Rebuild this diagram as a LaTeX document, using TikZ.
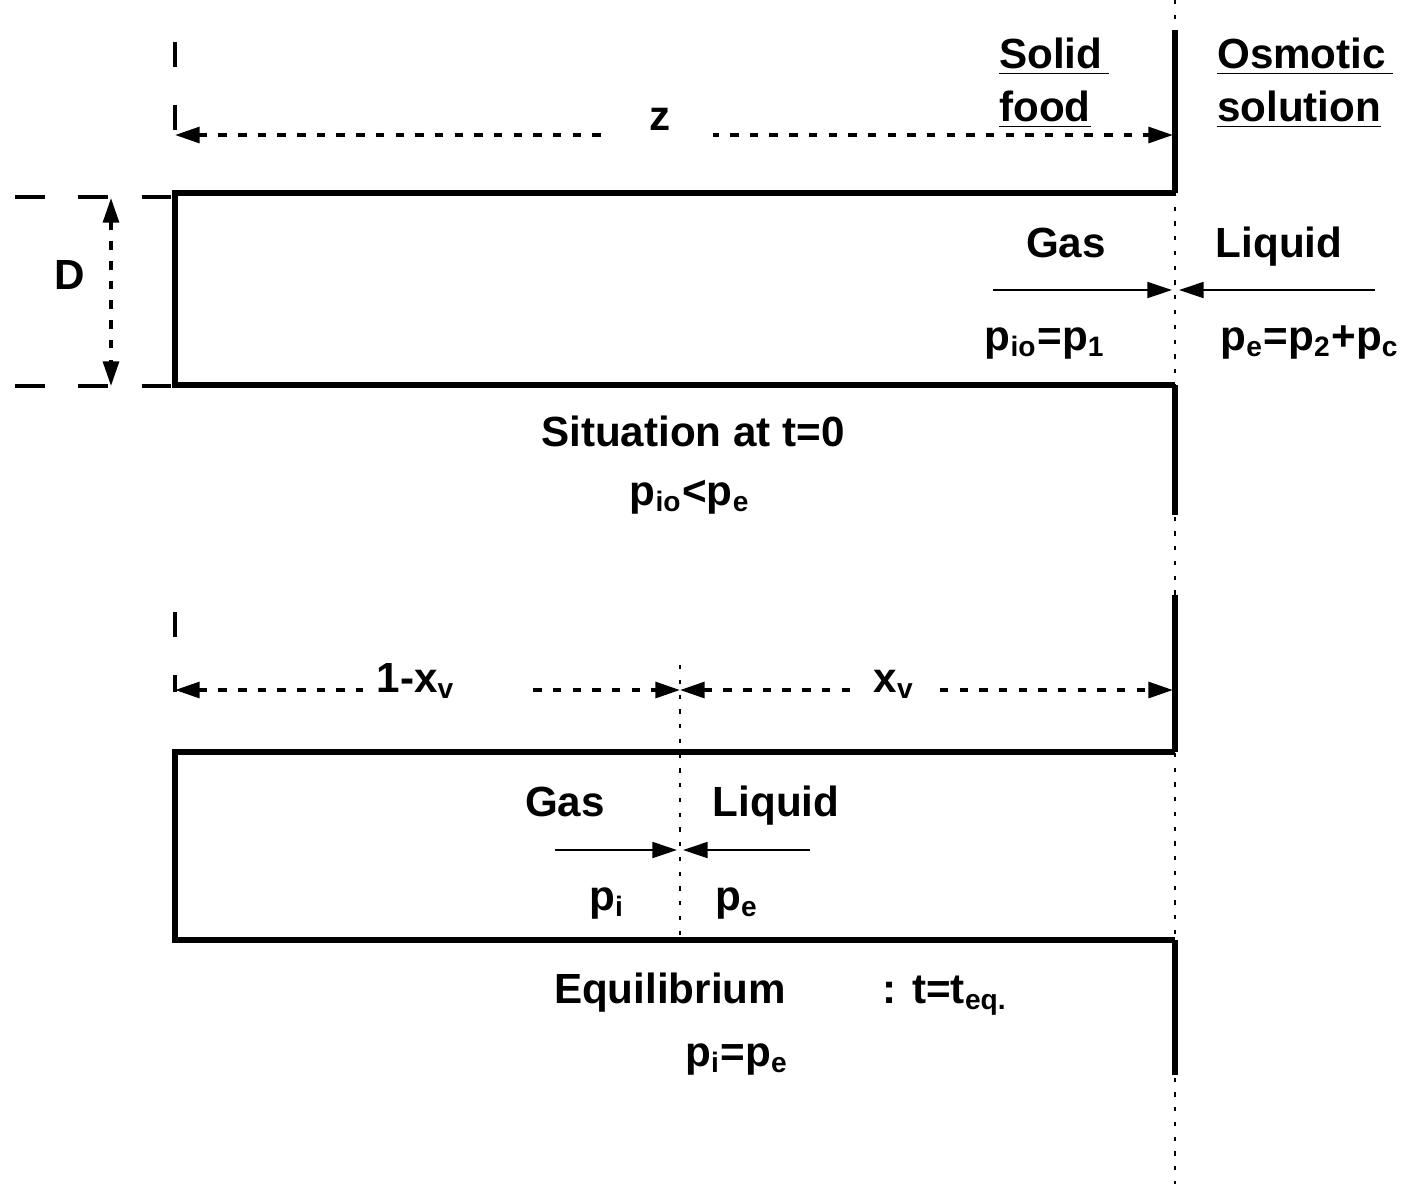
\documentclass[tikz,border=0pt]{standalone}
\usepackage{fontspec}
\setmainfont{Liberation Sans}
\usetikzlibrary{arrows.meta,positioning}

\tikzset{
  wall/.style={line width=1.7pt},
  membrane/.style={line width=0.7pt, dash pattern=on 1.2pt off 3pt},
  extline/.style={line width=0.9pt, dash pattern=on 7pt off 11pt},
  dimline/.style={line width=1pt, dash pattern=on 2.4pt off 3.2pt,
    {Triangle[length=7pt,width=4.5pt]}-{Triangle[length=7pt,width=4.5pt]}},
  push/.style={line width=0.7pt, -{Triangle[length=7pt,width=4.5pt]}},
  lbl/.style={font=\fontsize{12}{14}\selectfont\bfseries, inner sep=1pt, anchor=base},
  gap/.style={lbl, fill=white, inner xsep=4pt, text depth=3pt}
}

\begin{document}
\begin{tikzpicture}[x=0.1mm, y=-0.1mm]
\useasboundingbox (0,0) rectangle (1410,1184);

% Membrane between food and solution
\draw[membrane] (1175,0) -- (1175,1184);
\foreach \a/\b in {30/193, 385/515, 595/752, 940/1075}{
  \draw[wall] (1175,\a) -- (1175,\b);
}

% ---------- Situation at t=0 ----------
\draw[wall] (1175,193) -- (175,193) -- (175,385) -- (1175,385);
\draw[extline] (175,42) -- (175,138);
\coordinate (zL) at (175,135);
\coordinate (zR) at (1173,135);
\draw[dimline] (zL) -- (zR);
\node[gap, inner xsep=12pt] (z) at (660,130) {z};

% D dimension
\draw[extline, dash pattern=on 8.5pt off 9.5pt] (15,197) -- (175,197);
\draw[extline, dash pattern=on 8.5pt off 9.5pt] (15,386) -- (175,386);
\coordinate (dT) at (111,198);
\coordinate (dB) at (111,386);
\draw[dimline] (dT) -- (dB);
\node[lbl] (D) at (70,289) {D};

% Headings
\node[lbl, anchor=base west] (solid) at (995,68) {\underline{Solid\,}};
\node[lbl, anchor=base west] (food) at (995,121) {\underline{food}};
\node[lbl, anchor=base west] (osm) at (1213,68) {\underline{Osmotic\,}};
\node[lbl, anchor=base west] (sol) at (1213,121) {\underline{solution}};

% Phases at the pore mouth
\node[lbl] (gas1) at (1066,257) {Gas};
\node[lbl] (liq1) at (1279,257) {Liquid};
\coordinate (g1) at (993,290);
\coordinate (l1) at (1375,290);
\coordinate (m1L) at (1172,290);
\coordinate (m1R) at (1179,290);
\draw[push] (g1) -- (m1L);
\draw[push] (l1) -- (m1R);
\node[lbl] (pio) at (1045,350) {p\textsubscript{io}=p\textsubscript{1}};
\node[lbl] (pe1) at (1310,350) {p\textsubscript{e}=p\textsubscript{2}+p\textsubscript{c}};

\node[lbl] (sit) at (693,446) {Situation at t=0};
\node[lbl] (cond1) at (690,505) {p\textsubscript{io}<p\textsubscript{e}};

% ---------- Equilibrium ----------
\draw[wall] (1175,752) -- (175,752) -- (175,940) -- (1175,940);
\draw[extline] (175,612) -- (175,692);
\draw[membrane] (680,665) -- (680,940);
\coordinate (aL) at (175,690);
\coordinate (aM) at (680,690);
\coordinate (aR) at (1173,690);
\draw[dimline] (aL) -- (aM);
\draw[dimline] (aM) -- (aR);
\node[gap, anchor=base west, text width=40pt, align=left] (xg) at (362,692) {1-x\textsubscript{v}};
\node[gap, inner xsep=5pt] (xl) at (894,692) {x\textsubscript{v}};

\node[lbl] (gas2) at (565,816) {Gas};
\node[lbl] (liq2) at (776,816) {Liquid};
\coordinate (g2) at (555,850);
\coordinate (l2) at (810,850);
\coordinate (m2L) at (677,850);
\coordinate (m2R) at (683,850);
\draw[push] (g2) -- (m2L);
\draw[push] (l2) -- (m2R);
\node[lbl] (pi) at (607,910) {p\textsubscript{i}};
\node[lbl] (pe2) at (737,910) {p\textsubscript{e}};

\node[lbl] (equ) at (670,1003) {Equilibrium};
\node[lbl] (teq) at (945,1003) {: t=t\textsubscript{eq.}};
\node[lbl] (cond2) at (737,1066) {p\textsubscript{i}=p\textsubscript{e}};
\end{tikzpicture}
\end{document}
